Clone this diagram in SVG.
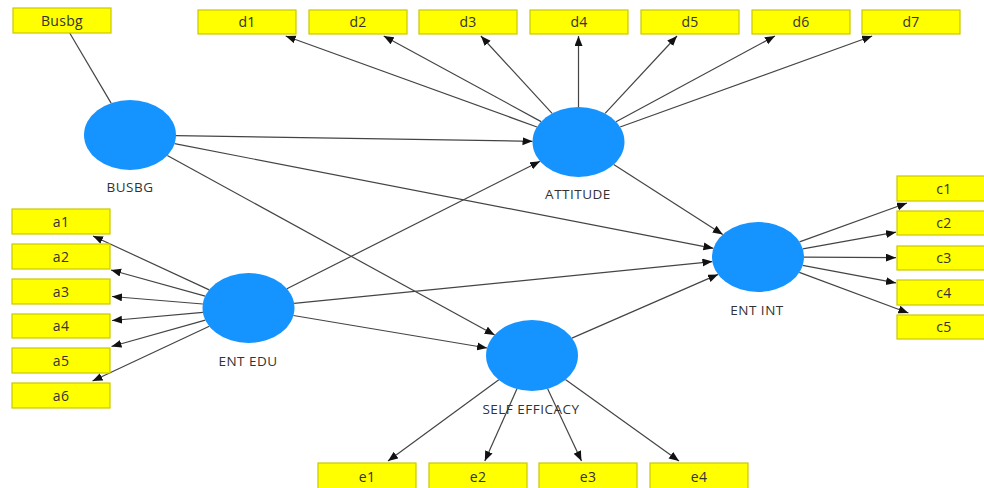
<svg xmlns="http://www.w3.org/2000/svg" width="984" height="488" viewBox="0 0 984 488">
<defs>
<marker id="arr" markerUnits="userSpaceOnUse" markerWidth="11" markerHeight="9" refX="10" refY="4" orient="auto">
<path d="M0,0 L10,4 L0,8 z" fill="#111"/>
</marker>
<style>
.box{fill:#ffff00;stroke:#c9c900;stroke-width:1.2}
.lv{fill:#1593ff}
.bt{font-family:"Open Sans","Noto Sans","DejaVu Sans",sans-serif;font-size:14px;fill:#333;text-anchor:middle;letter-spacing:0.3px}
.lt{font-family:"Open Sans","Noto Sans","DejaVu Sans",sans-serif;font-size:13.5px;fill:#333;text-anchor:middle;letter-spacing:0.5px}
.c line{stroke:#444;stroke-width:1.2}
.c line.a{marker-end:url(#arr)}
</style>
</defs>
<rect width="984" height="488" fill="#fff"/>
<g class="c" id="connectors">
<line x1="69.7" y1="33" x2="111.1" y2="103.1"/>
<line class="a" x1="537" y1="127" x2="285.7" y2="36"/>
<line class="a" x1="541.1" y1="121.6" x2="383.7" y2="36"/>
<line class="a" x1="552.1" y1="113.3" x2="480.9" y2="36"/>
<line class="a" x1="578.5" y1="107" x2="578.5" y2="36"/>
<line class="a" x1="605.1" y1="113.4" x2="677" y2="36"/>
<line class="a" x1="616" y1="121.8" x2="775" y2="36"/>
<line class="a" x1="620.1" y1="127" x2="872.2" y2="36"/>
<line class="a" x1="176" y1="135.7" x2="532.5" y2="141.3"/>
<line class="a" x1="174.6" y1="143.7" x2="713.4" y2="248.3"/>
<line class="a" x1="167.3" y1="155.5" x2="494.7" y2="335"/>
<line class="a" x1="286.9" y1="288.7" x2="540.1" y2="161.3"/>
<line class="a" x1="294.1" y1="303.4" x2="712.4" y2="261.6"/>
<line class="a" x1="293.4" y1="315.5" x2="487.1" y2="348"/>
<line class="a" x1="613.7" y1="164.5" x2="722.8" y2="234.5"/>
<line class="a" x1="571.9" y1="338.1" x2="718.1" y2="274.4"/>
<line class="a" x1="209.2" y1="289.9" x2="93" y2="236"/>
<line class="a" x1="205.2" y1="296.1" x2="111" y2="270"/>
<line class="a" x1="202.8" y1="304" x2="112" y2="296.5"/>
<line class="a" x1="202.9" y1="312.4" x2="112" y2="320.5"/>
<line class="a" x1="205.3" y1="320.1" x2="111.5" y2="346.5"/>
<line class="a" x1="209.3" y1="326.3" x2="92.5" y2="381"/>
<line class="a" x1="799.5" y1="241.9" x2="907" y2="203"/>
<line class="a" x1="802.8" y1="248.9" x2="896" y2="232.2"/>
<line class="a" x1="804" y1="257.1" x2="896" y2="257.7"/>
<line class="a" x1="802.6" y1="265.4" x2="896" y2="282.9"/>
<line class="a" x1="799.3" y1="272.4" x2="908.4" y2="313"/>
<line class="a" x1="498.8" y1="379.7" x2="388" y2="461"/>
<line class="a" x1="517.1" y1="388.6" x2="484.8" y2="461"/>
<line class="a" x1="547.5" y1="388.4" x2="581.5" y2="461"/>
<line class="a" x1="565.4" y1="379.5" x2="679" y2="461"/>
</g>
<g id="BUSBG"><ellipse class="lv" cx="130" cy="135" rx="46" ry="35"/><text class="lt" x="130" y="192">BUSBG</text></g>
<g id="ATTITUDE"><ellipse class="lv" cx="578.5" cy="142" rx="46" ry="35"/><text class="lt" x="578" y="199">ATTITUDE</text></g>
<g id="ENT_EDU"><ellipse class="lv" cx="248.5" cy="308" rx="46" ry="35"/><text class="lt" x="248" y="366">ENT EDU</text></g>
<g id="ENT_INT"><ellipse class="lv" cx="758" cy="257" rx="46" ry="35"/><text class="lt" x="757" y="315">ENT INT</text></g>
<g id="SELF_EFFICACY"><ellipse class="lv" cx="532" cy="355.5" rx="46" ry="35.5"/><text class="lt" x="531" y="414">SELF EFFICACY</text></g>
<g id="Busbg"><rect class="box" x="13" y="8" width="98" height="25"/><text class="bt" x="62" y="25.5">Busbg</text></g>
<g id="d1"><rect class="box" x="198" y="10" width="98" height="24"/><text class="bt" x="247" y="27">d1</text></g>
<g id="d2"><rect class="box" x="309" y="10" width="98" height="24"/><text class="bt" x="358" y="27">d2</text></g>
<g id="d3"><rect class="box" x="419" y="10" width="98" height="24"/><text class="bt" x="468" y="27">d3</text></g>
<g id="d4"><rect class="box" x="530" y="10" width="98" height="24"/><text class="bt" x="579" y="27">d4</text></g>
<g id="d5"><rect class="box" x="641" y="10" width="98" height="24"/><text class="bt" x="690" y="27">d5</text></g>
<g id="d6"><rect class="box" x="752" y="10" width="98" height="24"/><text class="bt" x="801" y="27">d6</text></g>
<g id="d7"><rect class="box" x="862" y="10" width="98" height="24"/><text class="bt" x="911" y="27">d7</text></g>
<g id="a1"><rect class="box" x="12" y="209" width="98" height="25"/><text class="bt" x="61" y="226.5">a1</text></g>
<g id="a2"><rect class="box" x="12" y="244" width="98" height="25"/><text class="bt" x="61" y="261.5">a2</text></g>
<g id="a3"><rect class="box" x="12" y="279" width="98" height="25"/><text class="bt" x="61" y="296.5">a3</text></g>
<g id="a4"><rect class="box" x="12" y="314" width="98" height="24"/><text class="bt" x="61" y="331">a4</text></g>
<g id="a5"><rect class="box" x="12" y="348" width="98" height="25"/><text class="bt" x="61" y="365.5">a5</text></g>
<g id="a6"><rect class="box" x="12" y="383" width="98" height="25"/><text class="bt" x="61" y="400.5">a6</text></g>
<g id="c1"><rect class="box" x="897" y="176" width="98" height="25"/><text class="bt" x="944" y="193.5">c1</text></g>
<g id="c2"><rect class="box" x="897" y="211" width="98" height="24"/><text class="bt" x="944" y="228">c2</text></g>
<g id="c3"><rect class="box" x="897" y="246" width="98" height="24"/><text class="bt" x="944" y="263">c3</text></g>
<g id="c4"><rect class="box" x="897" y="280" width="98" height="25"/><text class="bt" x="944" y="297.5">c4</text></g>
<g id="c5"><rect class="box" x="897" y="315" width="98" height="24"/><text class="bt" x="944" y="332">c5</text></g>
<g id="e1"><rect class="box" x="318" y="463" width="98" height="26"/><text class="bt" x="367" y="481.5">e1</text></g>
<g id="e2"><rect class="box" x="429" y="463" width="98" height="26"/><text class="bt" x="478" y="481.5">e2</text></g>
<g id="e3"><rect class="box" x="539" y="463" width="98" height="26"/><text class="bt" x="588" y="481.5">e3</text></g>
<g id="e4"><rect class="box" x="650" y="463" width="98" height="26"/><text class="bt" x="699" y="481.5">e4</text></g>
</svg>
